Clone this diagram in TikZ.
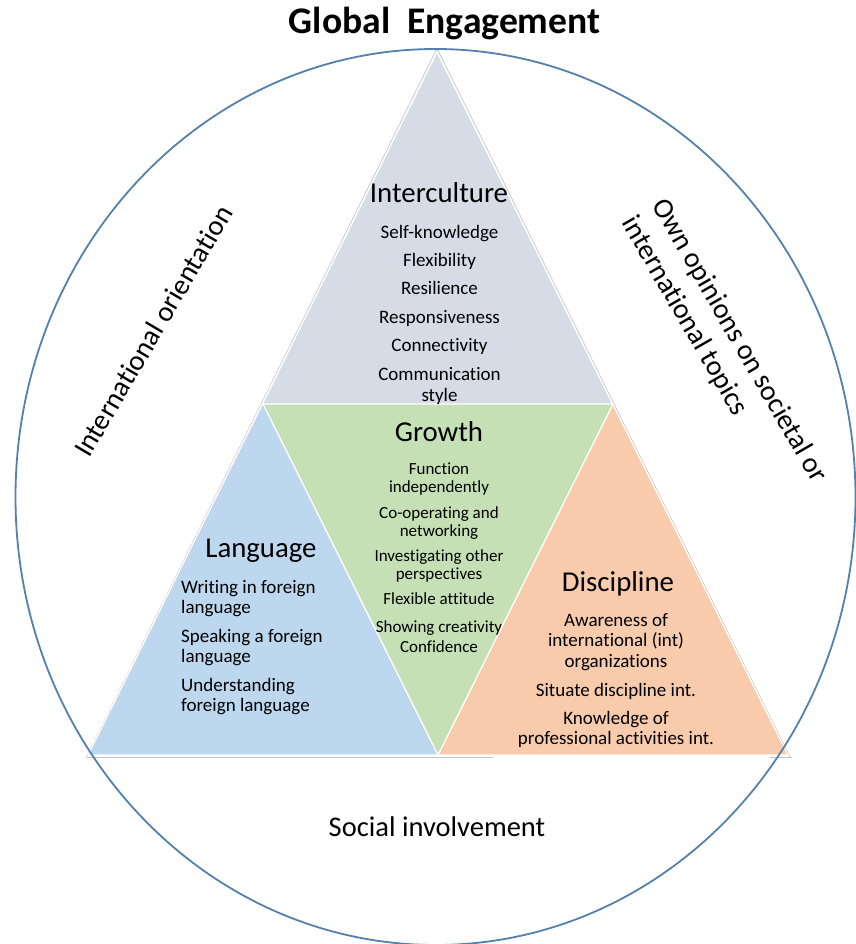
\documentclass[tikz,border=0pt]{standalone}
\usepackage{fontspec}
\setmainfont[Ligatures=NoCommon]{Carlito}
\definecolor{ringc}{RGB}{84,128,172}
\definecolor{intc}{RGB}{214,220,229}
\definecolor{groc}{RGB}{197,224,180}
\definecolor{lanc}{RGB}{189,215,238}
\definecolor{disc}{RGB}{248,203,173}
\definecolor{shadowc}{RGB}{195,195,195}
\tikzset{
  tri/.style={draw=white, line width=1.3pt, line join=miter},
  title/.style={font=\fontsize{28.8}{34}\selectfont, inner sep=0pt, anchor=base},
  item/.style={font=\fontsize{19}{21}\selectfont, inner sep=0pt, anchor=base, align=center},
  gitem/.style={font=\fontsize{17}{18}\selectfont, inner sep=0pt, anchor=base, align=center},
  ditem/.style={font=\fontsize{19}{20.5}\selectfont, inner sep=0pt, anchor=base, align=center},
  litem/.style={font=\fontsize{19}{20.5}\selectfont, inner sep=0pt, anchor=base west, align=left},
  outer/.style={font=\fontsize{28.5}{35}\selectfont, inner sep=0pt},
}
\begin{document}
\begin{tikzpicture}[x=1pt,y=-1pt]
\useasboundingbox (0,0) rectangle (855,944);
\coordinate (A) at (437,52);
\coordinate (L) at (263,404);
\coordinate (R) at (613,404);
\coordinate (BL) at (88,755);
\coordinate (BM) at (438,755);
\coordinate (BR) at (788,755);
% shadow lines
\draw[shadowc, line width=0.7pt] (86.5,757) -- (436,50.5) -- (438,50.5) -- (790,757);
\draw[shadowc, line width=0.7pt] (86.5,757) -- (493,757);
\draw[shadowc, line width=0.7pt] (770,757) -- (792,757);
% triangles
\fill[intc] (A) -- (L) -- (R) -- cycle;
\fill[groc] (L) -- (R) -- (BM) -- cycle;
\fill[lanc] (L) -- (BL) -- (BM) -- cycle;
\fill[disc] (R) -- (BM) -- (BR) -- cycle;
\draw[tri] (L) -- (R) -- (BM) -- cycle;
\draw[tri] (A) -- (BL) -- (BR) -- cycle;
% ring
\draw[ringc, line width=1.8pt] (435.5,497) ellipse [x radius=420, y radius=448];
% title
\node[font=\fontsize{37.6}{44}\selectfont\bfseries, inner sep=0pt, anchor=base] (gt) at (444.5,33.5) {Global\ \ Engagement};
% Interculture
\node[title] (it) at (439,202.5) {Interculture};
\node[item] (i1) at (439.5,238) {Self-knowledge};
\node[item] (i2) at (439.5,266) {Flexibility};
\node[item] (i3) at (439.5,294) {Resilience};
\node[item] (i4) at (439.5,323) {Responsiveness};
\node[item] (i5) at (439.5,351) {Connectivity};
\node[item] (i6) at (439.5,401) {Communication\\style};
% Growth
\node[title] (gr) at (439,441) {Growth};
\node[gitem] (g1) at (439,492.5) {Function\\independently};
\node[gitem] (g2) at (439,536.5) {Co-operating and\\networking};
\node[gitem] (g3) at (439,579.5) {Investigating other\\perspectives};
\node[gitem] (g4) at (439,604.5) {Flexible attitude};
\node[gitem, font=\fontsize{17}{20}\selectfont] (g5) at (439,652.5) {Showing creativity\\Confidence};
% Language
\node[title] (la) at (261,557.5) {Language};
\node[litem] (l1) at (181,613.5) {Writing in foreign\\language};
\node[litem] (l2) at (181,662.5) {Speaking a foreign\\language};
\node[litem] (l3) at (181,711.5) {Understanding\\foreign language};
% Discipline
\node[title] (di) at (618,591.5) {Discipline};
\node[ditem] (d1) at (616,667) {Awareness of\\international (int)\\organizations};
\node[ditem] (d2) at (616,696) {Situate discipline int.};
\node[ditem] (d3) at (616,744.5) {Knowledge of\\professional activities int.};
% outer texts
\node[outer, rotate=59.5] (io) at (153,331) {International orientation};
\node[outer, rotate=-60, align=left] (oo) at (724,350) {Own opinions on societal or\\international topics};
\node[outer, anchor=base] (si) at (437,836.5) {Social involvement};
\end{tikzpicture}
\end{document}
